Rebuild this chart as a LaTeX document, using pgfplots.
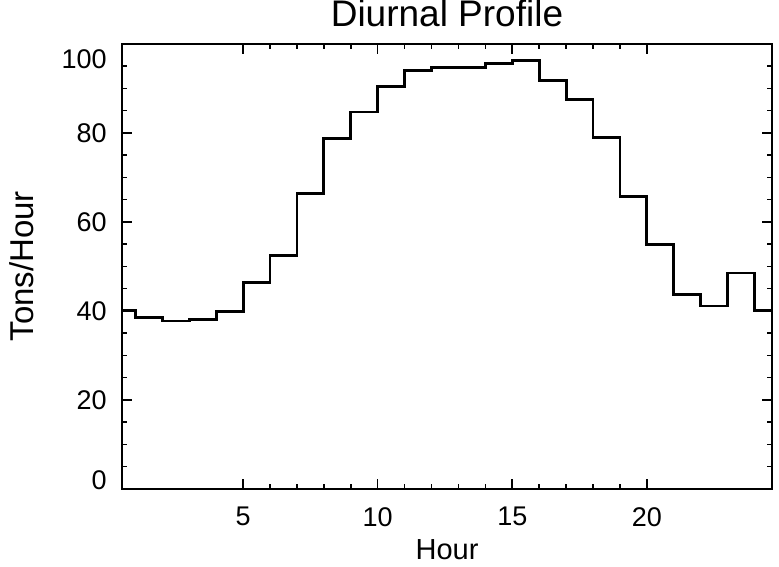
\documentclass[border=0pt]{standalone}
\usepackage{fontspec}
\setmainfont{Liberation Sans}
\usepackage{pgfplots}
\pgfplotsset{compat=1.18}
\usetikzlibrary{calc}

\begin{document}
\begin{tikzpicture}
\begin{axis}[
  scale only axis,
  width=325pt, height=222.5pt,
  xmin=0.5, xmax=24.65, ymin=0, ymax=100,
  xtick={5,10,15,20}, minor x tick num=4,
  ytick={0,20,40,60,80,100}, minor y tick num=3,
  yticklabels={\raisebox{4.5pt}[\height][\depth]{0},20,40,60,80,\raisebox{-7.5pt}[\height][\depth]{100}},
  axis line style={line width=1pt},
  every tick/.style={black, line width=0.8pt},
  major tick length=5pt, minor tick length=2.5pt,
  tick align=inside,
  /pgf/number format/assume math mode=true,
  tick label style={font=\fontsize{13.5}{15}\selectfont, inner sep=0pt},
  yticklabel style={xshift=-7.5pt},
  xticklabel style={yshift=-9pt},
  title={Diurnal Profile},
  title style={font=\fontsize{18.5}{21}\selectfont, inner sep=0pt, at={(axis description cs:0.5,1)}, anchor=base, yshift=2.5pt},
  xlabel={Hour},
  xlabel style={font=\fontsize{14.5}{17}\selectfont, inner sep=0pt, at={(axis description cs:0.5,0)}, anchor=base, yshift=-35.5pt},
  ylabel={Tons/Hour},
  ylabel style={font=\fontsize{16.5}{18}\selectfont, inner sep=0pt, at={(axis description cs:-0.1369,0.5)}, anchor=base},
]
\addplot[const plot, line width=1.4pt, black] coordinates {
  (0.5,40.1) (1,38.5) (2,37.7) (3,38.1) (4,39.8) (5,46.3) (6,52.5)
  (7,66.3) (8,78.7) (9,84.7) (10,90.4) (11,94.0) (12,94.6) (13,94.7)
  (14,95.5) (15,96.3) (16,91.8) (17,87.5) (18,78.9) (19,65.7) (20,54.9)
  (21,43.6) (22,41.1) (23,48.5) (24,40.1) (24.65,40.1)
};
\end{axis}
\path ($(current axis.south west)+(-61pt,-39pt)$) rectangle ($(current axis.north east)+(3.5pt,21pt)$);
\end{tikzpicture}
\end{document}
